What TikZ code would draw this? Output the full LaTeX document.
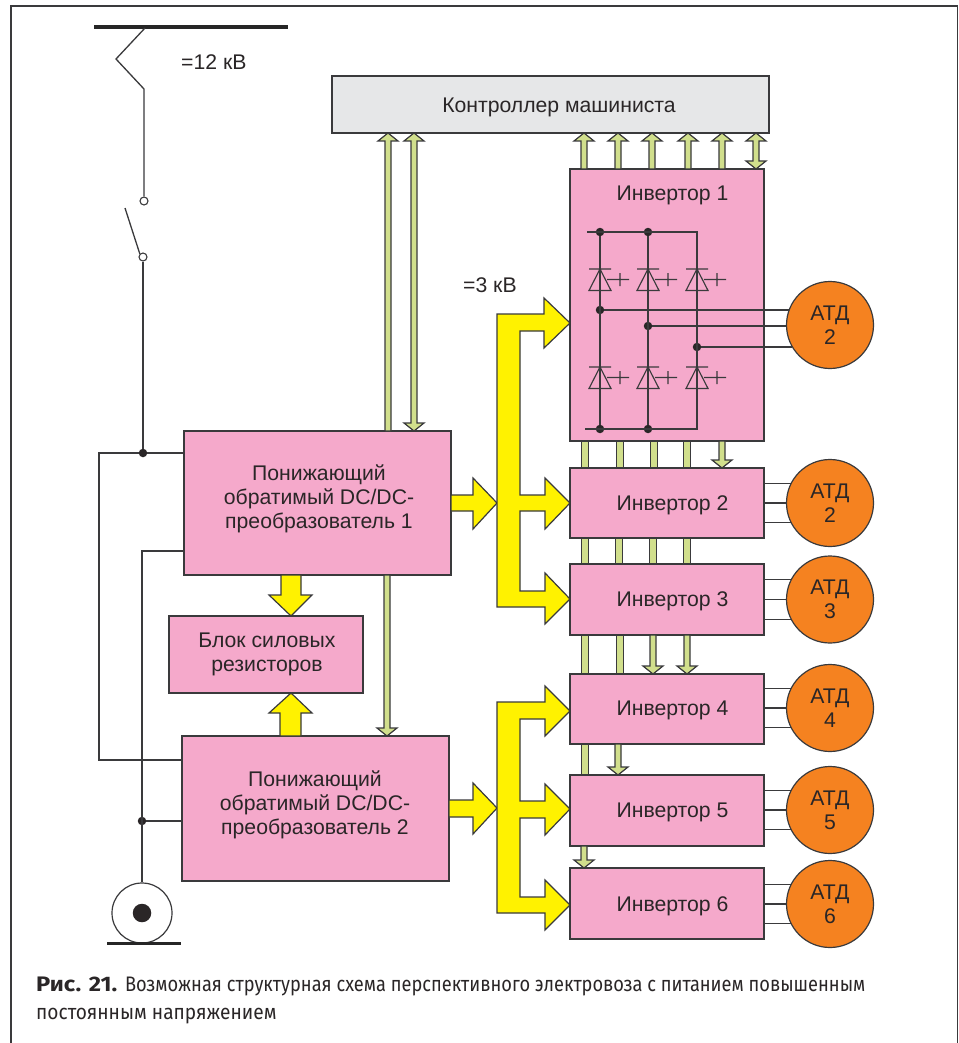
\documentclass[tikz,border=0pt]{standalone}
\usepackage{fontspec}
\setmainfont{Liberation Sans}
\newfontfamily\capfont{Fira Sans}[FakeStretch=0.868]
\newfontfamily\captwo{Fira Sans}[FakeStretch=0.91]
\newfontfamily\capbold{Fira Sans Bold}[FakeStretch=1.13]
\usetikzlibrary{calc}
\definecolor{ink}{HTML}{3A3A3C}
\definecolor{txt}{HTML}{2A2627}
\definecolor{pinkb}{HTML}{F5A9CB}
\definecolor{greyb}{HTML}{E6E7E8}
\definecolor{orangeb}{HTML}{F58220}
\definecolor{yellowb}{HTML}{FFF200}
\definecolor{greenb}{HTML}{D1DF8C}
\tikzset{
  wire/.style={draw=ink,line width=1.3pt},
  thick wire/.style={draw=black!85!white,line width=3.2pt},
  block/.style={draw=ink,line width=1.3pt,fill=pinkb,inner sep=0pt,outer sep=0pt},
  ctrlblock/.style={block,fill=greyb},
  motor/.style={circle,draw=ink,line width=1.2pt,fill=orangeb,inner sep=0pt,outer sep=0pt,minimum size=87pt},
  label text/.style={font=\fontsize{21.2pt}{24pt}\selectfont,text=txt,align=center,inner sep=0pt},
  power/.style={draw=ink,line width=1.2pt,fill=yellowb,line join=miter},
  gbus/.style={draw=ink,line width=1.2pt,fill=greenb,line join=miter},
  jdot/.style={circle,fill=txt,draw=none,inner sep=0pt,minimum size=8.5pt},
  odot/.style={circle,fill=white,draw=ink,line width=1.1pt,inner sep=0pt,minimum size=8pt}
}
% green links: x position, upper node, lower node
\newcommand\gshaft[3]{\draw[gbus] let \p1=(#1,0),\p2=(#2.south),\p3=(#3.north) in
  (\x1-3.2pt,\y2) rectangle (\x1+3.2pt,\y3);}
\newcommand\gdown[3]{\draw[gbus] let \p1=(#1,0),\p2=(#2.south),\p3=(#3.north) in
  (\x1-3pt,\y2) -- (\x1-3pt,\y3+8pt) -- (\x1-10pt,\y3+8pt) -- (\x1,\y3) --
  (\x1+10pt,\y3+8pt) -- (\x1+3pt,\y3+8pt) -- (\x1+3pt,\y2) -- cycle;}
\newcommand\gup[3]{\draw[gbus] let \p1=(#1,0),\p2=(#2.south),\p3=(#3.north) in
  (\x1-3pt,\y3) -- (\x1-3pt,\y2-8pt) -- (\x1-10pt,\y2-8pt) -- (\x1,\y2) --
  (\x1+10pt,\y2-8pt) -- (\x1+3pt,\y2-8pt) -- (\x1+3pt,\y3) -- cycle;}
\newcommand\gboth[3]{\draw[gbus] let \p1=(#1,0),\p2=(#2.south),\p3=(#3.north) in
  (\x1-3pt,\y3+8pt) -- (\x1-3pt,\y2-8pt) -- (\x1-10pt,\y2-8pt) -- (\x1,\y2) --
  (\x1+10pt,\y2-8pt) -- (\x1+3pt,\y2-8pt) -- (\x1+3pt,\y3+8pt) -- (\x1+10pt,\y3+8pt) --
  (\x1,\y3) -- (\x1-10pt,\y3+8pt) -- cycle;}
% thyristor: centre column x, bar y
\newcommand\thyr[2]{%
  \draw[wire,line width=1.15pt] (#1-11,#2) -- (#1+11,#2)
    (#1,#2) -- (#1-11,#2+21.5) -- (#1+11,#2+21.5) -- cycle
    (#1+7,#2+10.5) -- (#1+29,#2+10.5) (#1+20,#2+4) -- (#1+20,#2+17);}
% three-phase feed from inverter to motor
\newcommand\feed[2]{\draw[wire] (#1.east |- #2.153) -- (#2.153)
   (#1.east |- #2.180) -- (#2.180) (#1.east |- #2.207) -- (#2.207);}
\begin{document}
\begin{tikzpicture}[x=1pt,y=-1pt]
\useasboundingbox (0,0) rectangle (958,1043);
\fill[white] (0,0) rectangle (958,1043);
% frame
\draw[draw=ink,line width=1.3pt] (11,1043) -- (11,6) -- (957.3,6) -- (957.3,1043);

% blocks
\node[ctrlblock,minimum width=437pt,minimum height=57pt] (ctrl) at (550.5,104.5) {};
\node[block,minimum width=194pt,minimum height=272pt] (inv1) at (667,305) {};
\node[block,minimum width=194pt,minimum height=70pt] (inv2) at (667,503) {};
\node[block,minimum width=194pt,minimum height=71pt] (inv3) at (667,599.5) {};
\node[block,minimum width=194pt,minimum height=70pt] (inv4) at (667,709) {};
\node[block,minimum width=194pt,minimum height=71pt] (inv5) at (667,810.5) {};
\node[block,minimum width=194pt,minimum height=71pt] (inv6) at (667,903.5) {};
\node[block,minimum width=267pt,minimum height=144pt] (dc1) at (317.5,503) {};
\node[block,minimum width=194pt,minimum height=77pt] (res) at (266,654.5) {};
\node[block,minimum width=267pt,minimum height=145pt] (dc2) at (315.5,808.5) {};
\node[motor] (m1) at (830,325) {};
\node[motor] (m2) at (830,503) {};
\node[motor] (m3) at (830,599.5) {};
\node[motor] (m4) at (830,708) {};
\node[motor] (m5) at (830,810) {};
\node[motor] (m6) at (830,904) {};

% block labels
\node[label text] (tctrl) at (559,107.5) {Контроллер машиниста};
\node[label text] (t1) at (672.5,195) {Инвертор 1};
\node[label text] (t2) at (672.5,505.5) {Инвертор 2};
\node[label text] (t3) at (672.5,601.5) {Инвертор 3};
\node[label text] (t4) at (672.5,710.5) {Инвертор 4};
\node[label text] (t5) at (672.5,812) {Инвертор 5};
\node[label text] (t6) at (672.5,906) {Инвертор 6};
\node[label text] (tdc1) at (319,499) {Понижающий\\обратимый DC/DC-\\преобразователь 1};
\node[label text] (tdc2) at (315,805) {Понижающий\\обратимый DC/DC-\\преобразователь 2};
\node[label text] (tres) at (267,654) {Блок силовых\\резисторов};
\foreach \mm/\nn/\yy in {m1/2/325,m2/2/503,m3/3/599.5,m4/4/708,m5/5/810,m6/6/904}
  \node[label text] (tt\mm) at (830,\yy) {АТД\\\nn};
\node[label text,anchor=west] (t12) at (181,62) {=12 кВ};
\node[label text,anchor=west] (t3kv) at (463,285) {=3 кВ};

% caption
\node[anchor=base west,inner sep=0pt,text=txt] (cap1) at (36,991)
  {\fontsize{21pt}{24pt}\selectfont{\capbold Рис. 21.} \capfont Возможная структурная схема перспективного электровоза с питанием повышенным};
\node[anchor=base west,inner sep=0pt,text=txt] (cap2) at (36,1019)
  {\captwo\fontsize{21pt}{24pt}\selectfont постоянным напряжением};

% power circuit, left side
\coordinate (busL) at (94,27);
\coordinate (busR) at (288,27);
\draw[thick wire] (busL) -- (busR);
\node[odot] (sw1) at (144,201) {};
\node[odot] (sw2) at (143,257) {};
\node[jdot] (j1) at (143,453) {};
\node[jdot] (j2) at (142,821) {};
\coordinate (pant) at (145,28);
\draw[wire,line join=miter] (pant) -- (116,59) -- (144,89) -- (sw1.north);
\coordinate (swblade) at (125,208);
\draw[wire] (swblade) -- (sw2.north west);
\draw[wire] (sw2.south) -- (j1.north);
\draw[wire] (dc1.west |- j1) -- (j1) -- (99,453) -- (99,760) -- (dc2.west |- 0,760);
\node[circle,draw=ink,line width=1.2pt,fill=white,inner sep=0pt,minimum size=60pt] (wheel) at (142,913) {};
\node[circle,fill=txt,inner sep=0pt,minimum size=18.5pt] (hub) at (wheel.center) {};
\draw[wire] (dc1.west |- 0,551) -- (142,551) -- (wheel.north);
\draw[wire] (j2) -- (dc2.west |- j2);
\coordinate (railL) at (107,943.5);
\coordinate (railR) at (181,943.5);
\draw[draw=black!85!white,line width=2.4pt] (railL) -- (railR);

% green links
\gup{388}{ctrl}{dc1}
\gboth{414}{ctrl}{dc1}
\gdown{387}{dc1}{dc2}
\foreach \cx in {584,618,652,688,722} {\gup{\cx}{ctrl}{inv1}}
\gboth{756}{ctrl}{inv1}
\foreach \cx in {585,620,654,687} {\gshaft{\cx}{inv1}{inv2}}
\gdown{722}{inv1}{inv2}
\foreach \cx in {585,619,653,687} {\gshaft{\cx}{inv2}{inv3}}
\foreach \cx in {585,620} {\gshaft{\cx}{inv3}{inv4}}
\foreach \cx in {653,687} {\gdown{\cx}{inv3}{inv4}}
\gshaft{585}{inv4}{inv5}
\gdown{618}{inv4}{inv5}
\gdown{584}{inv5}{inv6}

% yellow power arrows
\draw[power] (dc1.south -| 281,0) -- (281,595) -- (269,595) -- (res.north -| 291,0) -- (312,595) -- (301,595) -- (dc1.south -| 301,0) -- cycle;
\draw[power] (dc2.north -| 280,0) -- (280,713) -- (269,713) -- (res.south -| 291,0) -- (312,713) -- (301,713) -- (dc2.north -| 301,0) -- cycle;
\draw[power] (dc1.east |- 0,495) -- (473,495) -- (473,478) -- (497,503) -- (473,529) -- (473,511) -- (dc1.east |- 0,511) -- cycle;
\draw[power] (dc2.east |- 0,800) -- (473,800) -- (473,783) -- (497,808) -- (473,834) -- (473,817) -- (dc2.east |- 0,817) -- cycle;
\draw[power] (497,314) -- (544,314) -- (544,298) -- (inv1.west |- 0,323) -- (544,348) -- (544,331) -- (520,331)
  -- (520,495) -- (545,495) -- (545,478) -- (inv2.west |- 0,503) -- (545,529) -- (545,511) -- (520,511)
  -- (520,591) -- (545,591) -- (545,573) -- (inv3.west |- 0,599) -- (545,624) -- (545,607) -- (497,607) -- cycle;
\draw[power] (497,702) -- (545,702) -- (545,686) -- (inv4.west |- 0,711) -- (545,736) -- (545,719) -- (520,719)
  -- (520,801) -- (545,801) -- (545,784) -- (inv5.west |- 0,809) -- (545,835) -- (545,818) -- (520,818)
  -- (520,897) -- (545,897) -- (545,880) -- (inv6.west |- 0,905) -- (545,930) -- (545,913) -- (497,913) -- cycle;

% inverter 1 bridge
\node[jdot] (a1) at (600,232) {};
\node[jdot] (a2) at (648,232) {};
\node[jdot] (b1) at (600,429) {};
\node[jdot] (b2) at (648,429) {};
\node[jdot] (o1) at (600,310) {};
\node[jdot] (o2) at (648,326) {};
\node[jdot] (o3) at (697,347) {};
\coordinate (railTa) at (587,232);
\coordinate (railTb) at (697,232);
\coordinate (railBa) at (585,429);
\coordinate (railBb) at (697,429);
\draw[wire] (railTa) -- (railTb) -- (railBb) -- (railBa);
\draw[wire] (a1) -- (b1) (a2) -- (b2);
\foreach \cx in {600,648,697} { \thyr{\cx}{269} \thyr{\cx}{367} }
\draw[wire] (o1) -- (m1.160 |- o1);
\draw[wire] (o2) -- (m1.180 |- o2);
\draw[wire] (o3) -- (m1.210 |- o3);

% motor feeds
\feed{inv2}{m2}
\feed{inv3}{m3}
\feed{inv4}{m4}
\feed{inv5}{m5}
\feed{inv6}{m6}
\end{tikzpicture}
\end{document}
